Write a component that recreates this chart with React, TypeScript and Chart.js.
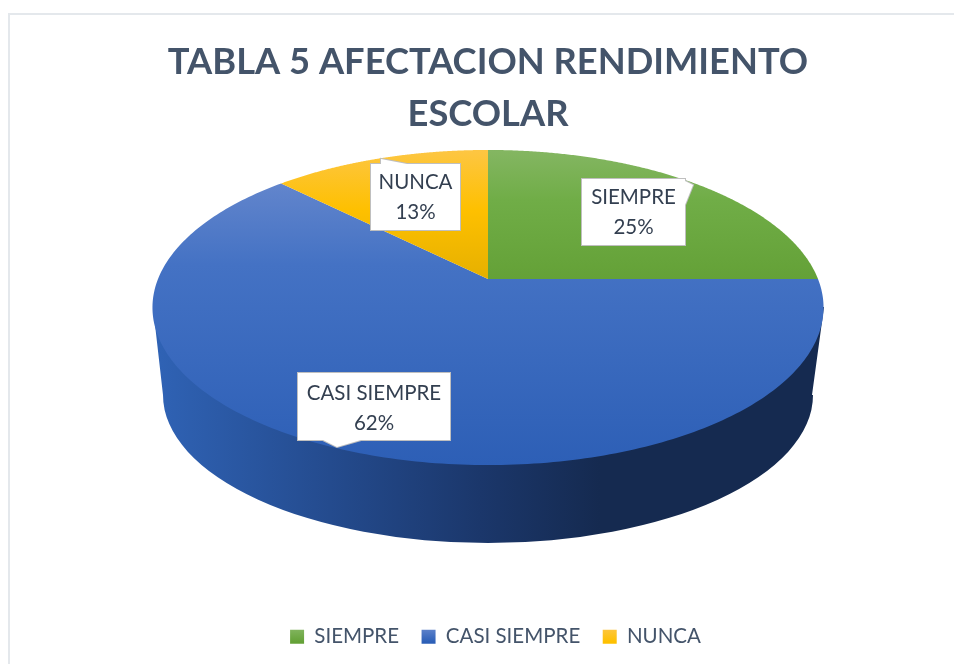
import React, { useEffect, useRef } from "react";
import { Chart, registerables } from "chart.js";

Chart.register(...registerables);

const categories = ["SIEMPRE", "CASI SIEMPRE", "NUNCA"];
const values = [25, 62.5, 12.5];
const percentLabels = ["25%", "62%", "13%"];
const titleLines = ["TABLA 5 AFECTACION RENDIMIENTO", "ESCOLAR"];

const FONT = "Lato";
const TITLE_COLOR = "#44546a";
const TEXT_COLOR = "#333f50";

// Perspective of the disc: rim angle to page position.
const APEX_X = 488;
const APEX_Y = 279;
const RX = 330;
const PERSP = 0.181;
const RY_TERM = -101.9;

const topStops: [number, string][][] = [
  [[150, "#84b662"], [200, "#70ad47"], [279, "#64a137"]],
  [[183, "#6285cc"], [265, "#4472c4"], [465, "#2d5fb6"]],
  [[150, "#fdc643"], [210, "#fec000"], [279, "#e6b000"]],
];
const legendStops = [
  ["#84b662", "#64a137"],
  ["#6285cc", "#2c5fb7"],
  ["#fdc643", "#fec000"],
];
const wallStops: [number, string][] = [
  [160, "#2f62b4"],
  [330, "#244b8e"],
  [480, "#1b376b"],
  [600, "#152a50"],
  [820, "#152a50"],
];

type Callout = { box: number[]; pointer: number[][]; textY: number };
const callouts: Callout[] = [
  { box: [582, 179, 685, 245], pointer: [[685, 181], [693, 185], [685, 205]], textY: 18 },
  { box: [298, 373, 450, 440], pointer: [[361, 440], [337, 447], [323, 440]], textY: 20 },
  { box: [371, 164, 460, 230], pointer: [[381, 164], [381, 159], [407, 164]], textY: 18.5 },
];

const project = (theta: number) => {
  const u = Math.sin(theta);
  const v = Math.cos(theta);
  const d = 1 + PERSP * v;
  return [APEX_X + (RX * u) / d, (APEX_Y + RY_TERM * v) / d];
};

const pie3d = {
  id: "pie3d",
  afterLayout(chart: any) {
    chart.legend.left += 15;
  },
  beforeDatasetsDraw(chart: any) {
    const ctx: CanvasRenderingContext2D = chart.ctx;
    const arcs = chart.getDatasetMeta(0).data;
    ctx.save();

    // Side wall takes the slice that faces the viewer.
    const wall = ctx.createLinearGradient(153, 0, 824, 0);
    wallStops.forEach(([x, c]) => wall.addColorStop((x - 153) / (824 - 153), c));
    ctx.beginPath();
    ctx.moveTo(824, 307);
    ctx.lineTo(812, 395);
    ctx.ellipse(APEX_X, 395, 325, 148, 0, 0, Math.PI);
    ctx.lineTo(153, 307);
    ctx.closePath();
    ctx.fillStyle = wall;
    ctx.fill();

    // Top face.
    arcs.forEach((arc: any, i: number) => {
      const start = arc.startAngle + Math.PI / 2;
      const end = arc.endAngle + Math.PI / 2;
      const stops = topStops[i];
      const y0 = stops[0][0];
      const y1 = stops[stops.length - 1][0];
      const g = ctx.createLinearGradient(0, y0, 0, y1);
      stops.forEach(([y, c]) => g.addColorStop((y - y0) / (y1 - y0), c));
      ctx.beginPath();
      ctx.moveTo(APEX_X, APEX_Y);
      const n = 240;
      for (let k = 0; k <= n; k++) {
        const [x, y] = project(start + ((end - start) * k) / n);
        ctx.lineTo(x, y);
      }
      ctx.closePath();
      ctx.fillStyle = g;
      ctx.fill();
    });

    // Callouts.
    categories.forEach((name, i) => {
      const { box, pointer, textY } = callouts[i];
      const [x0, y0, x1, y1] = box;
      ctx.beginPath();
      ctx.rect(x0, y0, x1 - x0, y1 - y0);
      ctx.moveTo(pointer[0][0], pointer[0][1]);
      pointer.slice(1).forEach(([x, y]) => ctx.lineTo(x, y));
      ctx.strokeStyle = "#bfbfbf";
      ctx.lineWidth = 2;
      ctx.stroke();
      ctx.beginPath();
      ctx.rect(x0, y0, x1 - x0, y1 - y0);
      ctx.fillStyle = "#ffffff";
      ctx.fill();
      ctx.beginPath();
      ctx.moveTo(pointer[0][0], pointer[0][1]);
      pointer.slice(1).forEach(([x, y]) => ctx.lineTo(x, y));
      ctx.closePath();
      ctx.fill();
      ctx.fillStyle = TEXT_COLOR;
      ctx.font = `20.5px ${FONT}`;
      ctx.textAlign = "center";
      ctx.textBaseline = "middle";
      const mx = (x0 + x1) / 2;
      ctx.fillText(name, mx, y0 + textY);
      ctx.fillText(percentLabels[i], mx, y0 + textY + 30);
    });
    ctx.restore();
    return false;
  },
};

export default function App() {
  const ref = useRef<HTMLCanvasElement>(null);
  useEffect(() => {
    const canvas = ref.current!;
    const chart = new Chart(canvas, {
      type: "pie",
      data: {
        labels: categories,
        datasets: [{ data: values, backgroundColor: ["#70ad47", "#4472c4", "#ffc000"], borderWidth: 0 }],
      },
      plugins: [pie3d],
      options: {
        responsive: false,
        animation: false,
        layout: { padding: { left: 22, right: 0, top: 0, bottom: 7 } },
        plugins: {
          tooltip: { enabled: false },
          title: {
            display: true,
            text: titleLines,
            color: TITLE_COLOR,
            font: { family: FONT, size: 36.3, weight: "bold", lineHeight: 52 / 36.3 },
            padding: { top: 36, bottom: 0 },
          },
          legend: {
            display: true,
            position: "bottom",
            labels: {
              boxWidth: 14,
              boxHeight: 14,
              padding: 22.5,
              color: TITLE_COLOR,
              font: { family: FONT, size: 20.5 },
              generateLabels: (c: any) =>
                categories.map((text, i) => {
                  const g = c.ctx.createLinearGradient(0, 628, 0, 642);
                  g.addColorStop(0, legendStops[i][0]);
                  g.addColorStop(1, legendStops[i][1]);
                  return { text, fillStyle: g, strokeStyle: "transparent", lineWidth: 0, hidden: false, index: i, fontColor: TITLE_COLOR };
                }),
            },
          },
        },
      },
    } as any);
    return () => chart.destroy();
  }, []);
  return (
    <div style={{ position: "absolute", left: 0, top: 0, width: 954, height: 664, overflow: "hidden", background: "#fff" }}>
      <canvas ref={ref} width={954} height={664} style={{ position: "absolute", left: 0, top: 0, display: "block" }} />
      <div style={{ position: "absolute", left: 8, top: 13, right: 0, bottom: 0, borderLeft: "2px solid #e4e8ec", borderTop: "2px solid #e4e8ec", pointerEvents: "none" }} />
    </div>
  );
}
